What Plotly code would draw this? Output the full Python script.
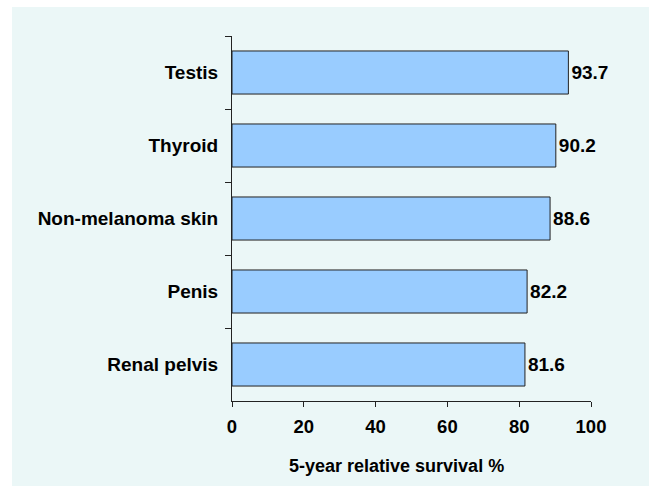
import plotly.graph_objects as go

categories = ["Testis", "Thyroid", "Non-melanoma skin", "Penis", "Renal pelvis"]
survival = [93.7, 90.2, 88.6, 82.2, 81.6]
x_ticks = [0, 20, 40, 60, 80, 100]
x_title = "5-year relative survival %"

W, H = 649, 486
L, R, T, B = 232, 58, 36, 85
pw, ph = W - L - R, H - T - B
BG = "#ebf7f7"

FONT = "Liberation Sans, Arial, sans-serif"

fig = go.Figure(go.Bar(
    y=categories, x=survival, orientation="h",
    marker=dict(color="#99ccff", line=dict(color="#222222", width=1)),
    width=0.59,
    text=[f"{v:.1f}" for v in survival],
    textposition="outside",
    textfont=dict(family=FONT, size=19, color="black", weight="bold"),
    cliponaxis=False,
))

# white strips along top and left edges of the page
fig.add_shape(type="rect", xref="paper", yref="paper", layer="below",
              x0=-L / pw, x1=(W - L) / pw, y0=(H - B - 7) / ph, y1=(H - B) / ph,
              line=dict(width=0), fillcolor="white")
fig.add_shape(type="rect", xref="paper", yref="paper", layer="below",
              x0=-L / pw, x1=(12 - L) / pw, y0=-B / ph, y1=(H - B) / ph,
              line=dict(width=0), fillcolor="white")

fig.add_annotation(text=x_title, xref="paper", yref="paper",
                   x=(396 - L) / pw, y=-(466 - (H - B)) / ph,
                   xanchor="center", yanchor="middle", showarrow=False,
                   font=dict(family=FONT, size=18, color="black", weight="bold"))

fig.update_layout(
    width=W, height=H,
    margin=dict(l=L, r=R, t=T, b=B, pad=0),
    paper_bgcolor=BG, plot_bgcolor="rgba(0,0,0,0)",
    showlegend=False,
    font=dict(family=FONT, color="black"),
)
fig.update_xaxes(range=[0, 100], tickvals=x_ticks, showgrid=False, zeroline=False,
                 showline=True, linecolor="#222222", linewidth=1,
                 ticks="outside", ticklen=5, tickcolor="#222222", ticklabelstandoff=4,
                 tickfont=dict(family=FONT, size=18.5, color="black", weight="bold"))
fig.update_yaxes(autorange="reversed", showgrid=False, zeroline=False,
                 showline=True, linecolor="#222222", linewidth=1,
                 ticks="outside", ticklen=6, tickcolor="#222222", tickson="boundaries",
                 ticklabelstandoff=9,
                 tickfont=dict(family=FONT, size=19, color="black", weight="bold"))

fig.write_html("out.html", config={"displayModeBar": False},
               post_script="document.body.style.margin='0';document.body.style.overflow='hidden';document.body.style.background='" + BG + "';")
